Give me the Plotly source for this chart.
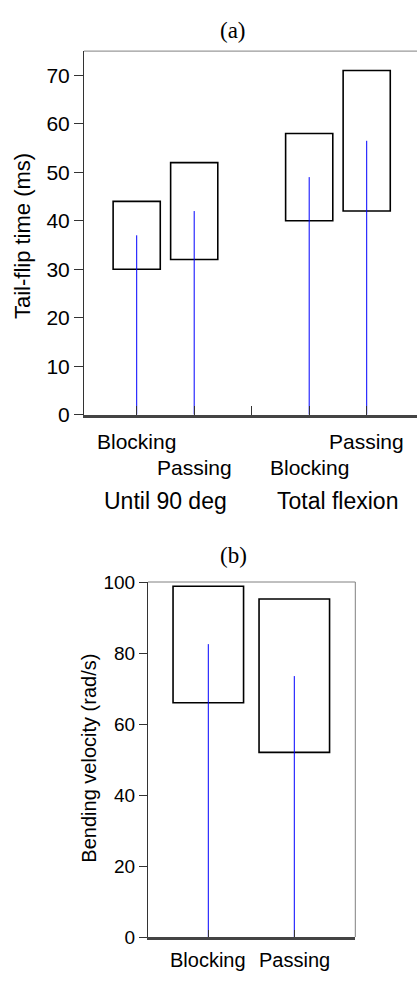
import plotly.graph_objects as go

W, H = 417, 982

# ---- Panel (a) data ----
pos_a = [1, 2, 4, 5]
low_a = [30, 32, 40, 42]
high_a = [44, 52, 58, 71]
line_a = [37, 42, 49, 56.5]
labels_a = ["Blocking", "Passing", "Blocking", "Passing"]
label_rows_a = [1, 2, 2, 1]
group_pos_a = [1.5, 4.5]
group_labels_a = ["Until 90 deg", "Total flexion"]
yticks_a = [0, 10, 20, 30, 40, 50, 60, 70]
xticks_a = [1, 2, 3, 4, 5]

# ---- Panel (b) data ----
pos_b = [1, 2]
low_b = [66, 52]
high_b = [98.8, 95.2]
line_b = [82.5, 73.5]
labels_b = ["Blocking", "Passing"]
yticks_b = [0, 20, 40, 60, 80, 100]


def px_x(x):
    return x / W


def px_y(y):
    return 1 - y / H


SANS = "Liberation Sans, Arial, sans-serif"
SERIF = "Liberation Serif, Times New Roman, serif"
AX = "#333333"
FRAME = "#808080"

fig = go.Figure()


def add_panel(pos, low, high, line, xa, ya):
    xs, ys = [], []
    for p, v in zip(pos, line):
        xs += [p, p, None]
        ys += [0, v, None]
    fig.add_trace(go.Scatter(x=xs, y=ys, mode="lines",
                             line=dict(color="#0000ff", width=1),
                             xaxis=xa, yaxis=ya, showlegend=False,
                             hoverinfo="skip"))
    fig.add_trace(go.Bar(x=pos, y=[h - l for h, l in zip(high, low)], base=low,
                         width=0.82, marker=dict(color="rgba(0,0,0,0)",
                                                 line=dict(color="black", width=1.6)),
                         xaxis=xa, yaxis=ya, showlegend=False))


add_panel(pos_a, low_a, high_a, line_a, "x", "y")
add_panel(pos_b, low_b, high_b, line_b, "x2", "y2")

# Axis geometry (a)
a_left, a_right, a_top, a_bot = 84, 417, 42, 413.5
sa = 57.5  # px per unit
x0a = 1 - (136.7 - a_left) / sa
x1a = x0a + (a_right - a_left) / sa
# Axis geometry (b)
b_left, b_right, b_top, b_bot = 148, 355.3, 584.5, 947.3
sb = 86.0
x0b = 1 - (208.3 - b_left) / sb
x1b = x0b + (b_right - b_left) / sb

fig.update_layout(
    width=W, height=H, margin=dict(l=0, r=0, t=0, b=0),
    paper_bgcolor="white", plot_bgcolor="white",
    barmode="overlay",
    xaxis=dict(domain=[px_x(a_left), px_x(a_right)], range=[x0a, x1a],
               showgrid=False, zeroline=False, showline=True, linecolor="#444444",
               linewidth=2.5, ticks="inside", tickvals=xticks_a, ticklen=9,
               tickcolor=AX, tickwidth=1, showticklabels=False, anchor="y"),
    yaxis=dict(domain=[px_y(a_bot), px_y(a_top)], range=[0, 75],
               showgrid=False, zeroline=False, showline=True, linecolor=AX,
               linewidth=1, ticks="outside", tickvals=yticks_a, ticklen=9,
               tickcolor=AX, tickwidth=1,
               tickfont=dict(family=SANS, size=21, color="black"), anchor="x"),
    xaxis2=dict(domain=[px_x(b_left), px_x(b_right)], range=[x0b, x1b],
                showgrid=False, zeroline=False, showline=True, linecolor="#444444",
                linewidth=2.5, ticks="inside", tickvals=pos_b, ticklen=7,
                tickcolor=AX, tickwidth=1, showticklabels=False, anchor="y2"),
    yaxis2=dict(domain=[px_y(b_bot), px_y(b_top)], range=[0, 100],
                showgrid=False, zeroline=False, showline=True, linecolor=AX,
                linewidth=1, ticks="outside", tickvals=yticks_b, ticklen=8,
                tickcolor=AX, tickwidth=1,
                tickfont=dict(family=SANS, size=19, color="black"), anchor="x2"),
)

# Frame lines (top of (a); top and right of (b))
fig.add_shape(type="line", xref="x domain", yref="y domain", x0=0, x1=1, y0=1, y1=1,
              line=dict(color=FRAME, width=1))
fig.add_shape(type="line", xref="x2 domain", yref="y2 domain", x0=0, x1=1, y0=1, y1=1,
              line=dict(color=FRAME, width=1))
fig.add_shape(type="line", xref="x2 domain", yref="y2 domain", x0=1, x1=1, y0=0, y1=1,
              line=dict(color=FRAME, width=1))


def note(text, x, y, xref, size, family=SANS, angle=0):
    return dict(text=text, x=x, y=y, xref=xref, yref="paper", showarrow=False,
                xanchor="center", yanchor="middle", textangle=angle,
                font=dict(family=family, size=size, color="black"))


ann = []
ann.append(note("(a)", px_x(233), px_y(21), "paper", 23, SERIF))
ann.append(note("(b)", px_x(233), px_y(557), "paper", 23, SERIF))
ann.append(note("Tail-flip time (ms)", px_x(22), px_y(231), "paper", 22, angle=-90))
ann.append(note("Bending velocity (rad/s)", px_x(89), px_y(765), "paper", 20, angle=-90))
row_y = {1: 441, 2: 468}
for p, lab, r in zip(pos_a, labels_a, label_rows_a):
    ann.append(note(lab, p, px_y(row_y[r]), "x", 21))
for p, lab in zip(group_pos_a, group_labels_a):
    ann.append(note(lab, p, px_y(502), "x", 23))
for p, lab in zip(pos_b, labels_b):
    ann.append(note(lab, p, px_y(971), "x2", 20))

fig.update_layout(annotations=ann)
fig.write_html("out.html")
